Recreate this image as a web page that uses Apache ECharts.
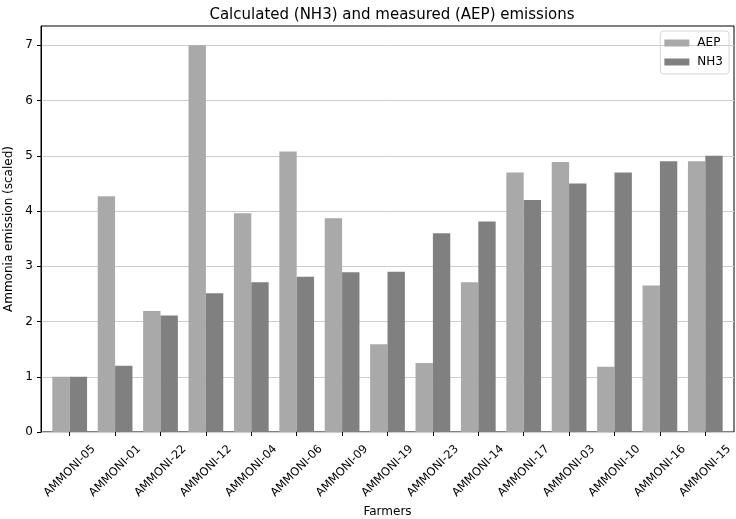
<!DOCTYPE html>
<html><head><meta charset="utf-8">
<script src="https://cdn.jsdelivr.net/npm/echarts@6/dist/echarts.min.js"></script>
<style>html,body{margin:0;padding:0;background:#fff}#c{width:736px;height:519px}</style>
</head><body><div id="c"></div>
<script>
const categories = ['AMMONI-05','AMMONI-01','AMMONI-22','AMMONI-12','AMMONI-04','AMMONI-06','AMMONI-09','AMMONI-19','AMMONI-23','AMMONI-14','AMMONI-17','AMMONI-03','AMMONI-10','AMMONI-16','AMMONI-15'];
const aepValues = [1.0, 4.27, 2.19, 7.0, 3.96, 5.08, 3.87, 1.59, 1.25, 2.71, 4.70, 4.89, 1.18, 2.65, 4.90];
const nh3Values = [1.0, 1.20, 2.11, 2.51, 2.71, 2.81, 2.89, 2.90, 3.60, 3.81, 4.20, 4.50, 4.70, 4.90, 5.0];
const yTicks = [0, 1, 2, 3, 4, 5, 6, 7];

const font = 'DejaVu Sans';
const chart = echarts.init(document.getElementById('c'));
chart.setOption({
  animation: false,
  textStyle: {fontFamily: font},
  title: {
    text: 'Calculated (NH3) and measured (AEP) emissions',
    left: 387, top: 3, textAlign: 'center',
    textStyle: {fontFamily: font, fontSize: 15, fontWeight: 'normal', color: '#000'}
  },
  legend: {
    right: 7, top: 31, orient: 'vertical', itemGap: 7,
    itemWidth: 25, itemHeight: 7, icon: 'rect',
    borderColor: '#d5d5d5', borderWidth: 1, borderRadius: 3, padding: [6, 6, 6, 4],
    textStyle: {fontFamily: font, fontSize: 12, color: '#000', padding: [0, 0, 0, 3]},
    data: ['AEP', 'NH3']
  },
  grid: [
    {left: 41, right: 2, top: 26, bottom: 87, show: true, borderColor: '#000', borderWidth: 1, containLabel: false, outerBoundsMode: 'none'},
    {left: 47, right: 8, top: 26, bottom: 87, containLabel: false, outerBoundsMode: 'none'}
  ],
  xAxis: [
    {type: 'value', gridIndex: 0, show: false, min: 0, max: 1},
    {
      type: 'category', gridIndex: 1, data: categories,
      name: 'Farmers', nameLocation: 'middle', nameGap: 73,
      nameTextStyle: {fontFamily: font, fontSize: 12, color: '#000'},
      axisLine: {show: false},
      axisTick: {show: true, alignWithLabel: true, length: 4, lineStyle: {color: '#000'}},
      axisLabel: {rotate: 45, fontFamily: font, fontSize: 11.5, color: '#000', margin: 39, interval: 0,
        align: 'center', verticalAlign: 'middle'}
    }
  ],
  yAxis: [
    {
      type: 'value', gridIndex: 0, min: 0, max: 7.35, interval: 1,
      name: 'Ammonia emission (scaled)', nameLocation: 'middle', nameGap: 24,
      nameTextStyle: {fontFamily: font, fontSize: 12, color: '#000'},
      axisLine: {show: true, lineStyle: {color: '#000'}},
      axisTick: {show: true, length: 4, lineStyle: {color: '#000'}, customValues: yTicks},
      axisLabel: {fontFamily: font, fontSize: 12, color: '#000', margin: 8, customValues: yTicks},
      splitLine: {show: true, lineStyle: {color: '#cccccc', width: 1}}
    },
    {type: 'value', gridIndex: 1, min: 0, max: 7.35, show: false, splitLine: {show: false}}
  ],
  series: [
    {name: 'AEP', type: 'bar', xAxisIndex: 1, yAxisIndex: 1, data: aepValues, itemStyle: {color: '#a9a9a9'}, barGap: '0%', barCategoryGap: '23.5%'},
    {name: 'NH3', type: 'bar', xAxisIndex: 1, yAxisIndex: 1, data: nh3Values, itemStyle: {color: '#808080'}, barGap: '0%', barCategoryGap: '23.5%'}
  ]
});
</script></body></html>
